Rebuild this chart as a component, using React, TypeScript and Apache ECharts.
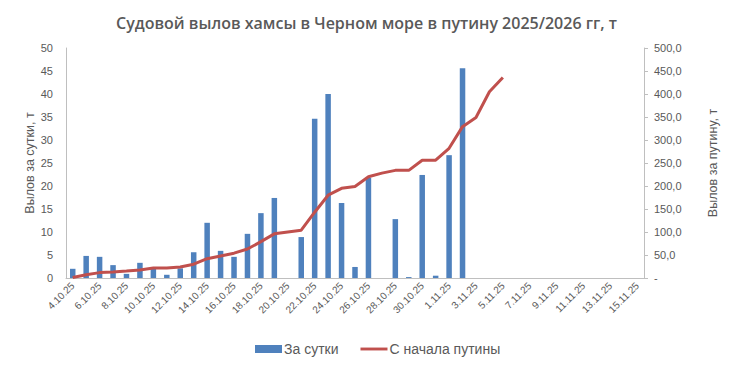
import React, { useEffect, useRef } from "react";
import * as echarts from "echarts";

const dates: string[] = [];
for (let d = 4; d <= 31; d++) dates.push(`${d}.10.25`);
for (let d = 1; d <= 15; d++) dates.push(`${d}.11.25`);

const daily: (number | null)[] = [
  2.0, 4.8, 4.6, 2.8, 0.9, 3.3, 2.0, 0.7, 2.1, 5.6,
  12.0, 5.9, 4.6, 9.6, 14.1, 17.4, null, 8.9, 34.6, 40.0,
  16.3, 2.4, 21.8, null, 12.8, 0.2, 22.4, 0.5, 26.7, 45.6,
];

const cumulative: number[] = [
  1, 7.2, 11.7, 13, 15, 17.4, 21.5, 21.7, 24, 30,
  42, 48, 54, 63, 79, 96, 100, 104, 143, 180,
  195, 199, 220, 228, 234, 234, 256, 256, 282, 329,
  349, 405, 436,
];

const leftTicks = [0, 50, 5];
const rightTicks = [0, 500, 50];

export default function App() {
  const ref = useRef<HTMLDivElement>(null);
  useEffect(() => {
    if (!ref.current) return;
    const chart = echarts.init(ref.current, undefined, { renderer: "svg" });
    const labelFont = "Liberation Sans";
    chart.setOption({
      animation: false,
      textStyle: { fontFamily: labelFont },
      title: {
        text: "Судовой вылов хамсы в Черном море в путину 2025/2026 гг, т",
        left: "center",
        top: 10,
        textStyle: {
          fontFamily: "Open Sans",
          fontSize: 16,
          fontWeight: 600,
          color: "#595959",
        },
      },
      legend: {
        bottom: 10,
        left: 250,
        itemGap: 22,
        itemWidth: 27,
        itemHeight: 8,
        textStyle: { fontSize: 14, color: "#595959", fontFamily: labelFont, padding: [0, 0, 0, -3] },
        data: [
          { name: "За сутки", icon: "rect" },
          { name: "С начала путины", icon: "path://M0,0 L28,0 L28,3 L0,3 Z" },
        ],
      },
      grid: { left: 66, right: 89, top: 48, bottom: 93, containLabel: false },
      xAxis: {
        type: "category",
        data: dates,
        boundaryGap: true,
        axisLine: { lineStyle: { color: "#BFBFBF" } },
        axisTick: { show: false },
        axisLabel: {
          interval: 1,
          rotate: 45,
          fontSize: 10,
          color: "#595959",
          margin: 6,
        },
      },
      yAxis: [
        {
          type: "value",
          min: leftTicks[0],
          max: leftTicks[1],
          interval: leftTicks[2],
          name: "Вылов за сутки, т",
          nameLocation: "middle",
          nameGap: 30,
          nameMoveOverlap: false,
          nameTextStyle: { fontSize: 12.5, color: "#595959" },
          axisLine: { show: true, lineStyle: { color: "#BFBFBF" } },
          axisTick: { show: false },
          splitLine: { show: false },
          axisLabel: { fontSize: 11, color: "#595959", margin: 13 },
        },
        {
          type: "value",
          min: rightTicks[0],
          max: rightTicks[1],
          interval: rightTicks[2],
          position: "right",
          name: "Вылов за путину, т",
          nameLocation: "middle",
          nameGap: 62,
          nameRotate: 90,
          nameMoveOverlap: false,
          nameTextStyle: { fontSize: 12.5, color: "#595959" },
          axisLine: { show: true, lineStyle: { color: "#BFBFBF" } },
          axisTick: { show: true, length: 4, lineStyle: { color: "#BFBFBF" } },
          splitLine: { show: false },
          axisLabel: {
            fontSize: 11,
            color: "#595959",
            margin: 10,
            formatter: (v: number) => (v === 0 ? "-" : v.toFixed(1).replace(".", ",")),
          },
        },
      ],
      series: [
        {
          name: "За сутки",
          type: "bar",
          yAxisIndex: 0,
          data: daily,
          barWidth: 5.5,
          itemStyle: { color: "#4F81BD" },
        },
        {
          name: "С начала путины",
          type: "line",
          yAxisIndex: 1,
          data: cumulative,
          symbol: "none",
          lineStyle: { color: "#C0504D", width: 3 },
          itemStyle: { color: "#C0504D" },
        },
      ],
    });
    return () => chart.dispose();
  }, []);
  return <div ref={ref} style={{ width: 733, height: 371, position: "absolute", left: 0, top: 0 }} />;
}
